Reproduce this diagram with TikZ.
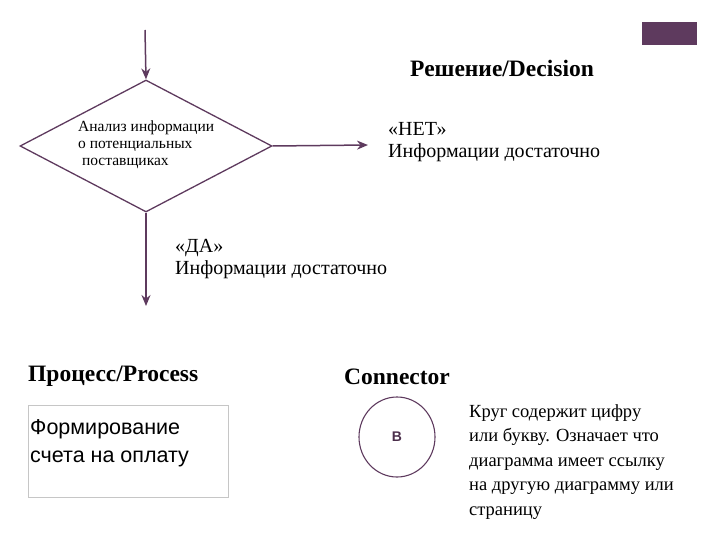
\documentclass[tikz,border=0pt]{standalone}
\usepackage{fontspec}
\setmainfont{Liberation Serif}
\setsansfont{Liberation Sans}
\usetikzlibrary{shapes.geometric,arrows.meta}
\begin{document}
\begin{tikzpicture}[x=1pt,y=-1pt,
  pur/.style={draw=purp,line width=1.5pt},
  arr/.style={pur,-{Stealth[length=11pt,width=9pt]}},
  lbl/.style={inner sep=0pt,anchor=north west,align=left}]
\definecolor{purp}{HTML}{5E3A5E}
\useasboundingbox (0,0) rectangle (720,540);
\fill[purp] (642,22) rectangle (697,45);
\coordinate (top) at (145,30);
\node[pur,diamond,minimum width=252pt,minimum height=132pt,inner sep=0pt,line width=1.3pt] (d) at (146,146) {};
\node[lbl,font=\fontsize{15.5}{17}\selectfont] (dt) at (78,121) {Анализ информации\\о потенциальных\\\ поставщиках};
\draw[arr] (top) -- (d.north);
\coordinate (r) at (368,145);
\draw[arr] (d.east) -- (r);
\coordinate (b) at (146,306);
\draw[arr] (d.south) -- (b);
\node[lbl,font=\bfseries\fontsize{23.5}{26}\selectfont] (dec) at (410,60) {Решение/Decision};
\node[lbl,font=\fontsize{20}{22}\selectfont] (no) at (388,122) {«НЕТ»\\Информации достаточно};
\node[lbl,font=\fontsize{20}{22}\selectfont] (yes) at (175,239) {«ДА»\\Информации достаточно};
\node[lbl,font=\bfseries\fontsize{23.5}{26}\selectfont] (pr) at (28,366) {Процесс/Process};
\node[lbl,font=\bfseries\fontsize{23.5}{26}\selectfont] (con) at (344,369) {Connector};
\node[draw=gray!45,line width=0.6pt,minimum width=200pt,minimum height=92pt,anchor=north west] (box) at (28,405) {};
\node[lbl,font=\sffamily\fontsize{21.5}{28}\selectfont] (bt) at (30,419) {Формирование\\счета на оплату};
\node[ellipse,draw=purp,line width=1.1pt,minimum width=76pt,minimum height=80pt,inner sep=0pt] (c) at (397,437) {};
\node[font=\sffamily\bfseries\fontsize{14}{16}\selectfont,text=purp!80!black] at (c) {В};
\node[lbl,font=\fontsize{18.5}{24.5}\selectfont] (ct) at (469,404) {Круг содержит цифру\\или букву. Означает что\\диаграмма имеет ссылку\\на другую диаграмму или\\страницу};
\end{tikzpicture}
\end{document}
